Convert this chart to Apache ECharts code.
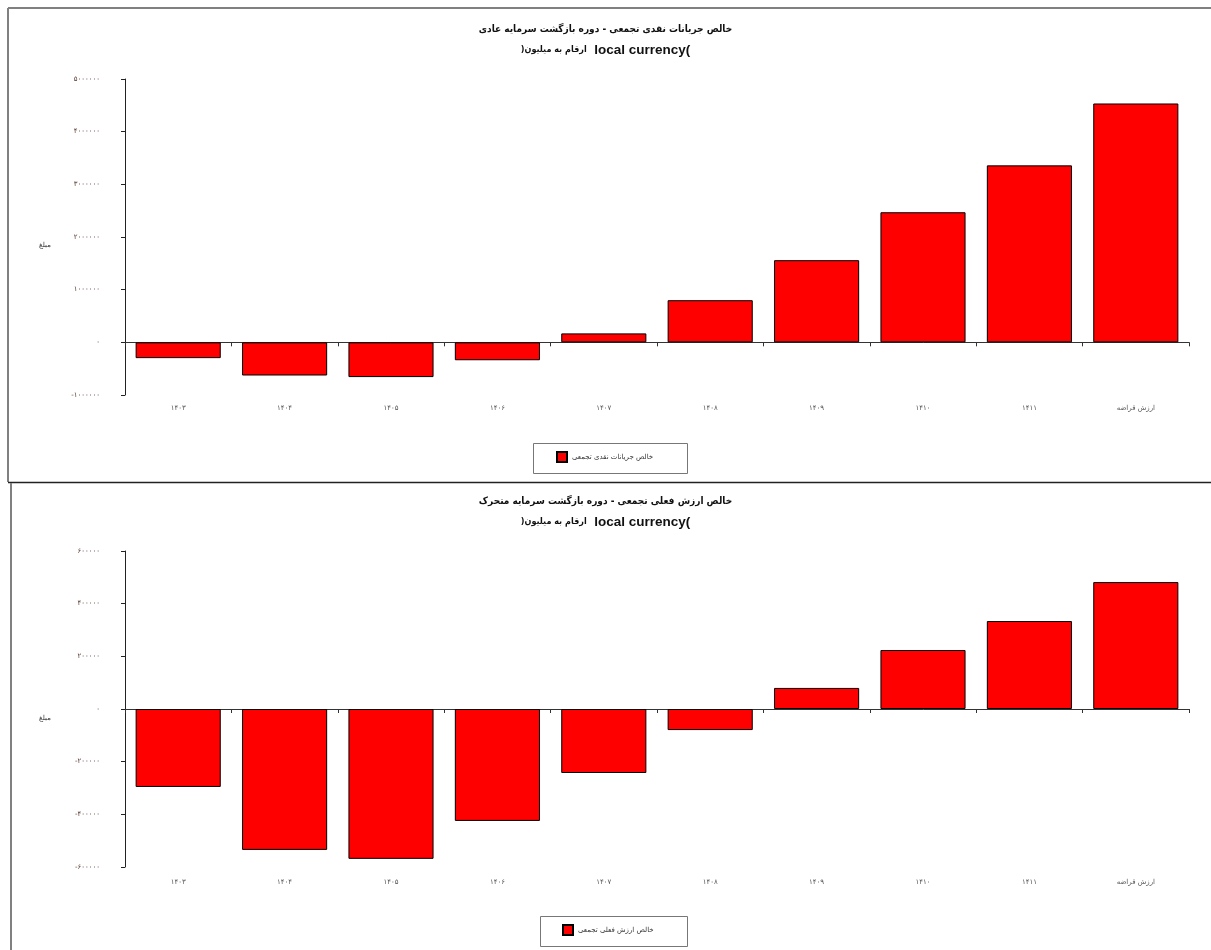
<!DOCTYPE html>
<html><head><meta charset="utf-8">
<script src="https://cdn.jsdelivr.net/npm/echarts@6/dist/echarts.min.js"></script>
<style>html,body{margin:0;padding:0;background:#fff}#c{width:1211px;height:950px}</style>
</head><body><div id="c"></div>
<script>
const categories = ['۱۴۰۳','۱۴۰۴','۱۴۰۵','۱۴۰۶','۱۴۰۷','۱۴۰۸','۱۴۰۹','۱۴۱۰','۱۴۱۱','ارزش قراضه'];
const cumulativeCashFlow = [-300000,-630000,-660000,-340000,170000,800000,1560000,2470000,3360000,4535000];
const cumulativeNPV = [-296000,-535000,-569000,-425000,-243000,-80000,80000,224000,334000,482000];
const seriesNames = ['خالص جریانات نقدی تجمعی','خالص ارزش فعلی تجمعی'];
const titles = ['خالص جریانات نقدی تجمعی - دوره بازگشت سرمایه عادی','خالص ارزش فعلی تجمعی - دوره بازگشت سرمایه متحرک'];
const subtitleFa = ')ارقام به میلیون';
const subtitleEn = '  local currency(';
const axisName = 'مبلغ';
const yRange1 = [-1000000, 5000000, 1000000];
const yRange2 = [-600000, 600000, 200000];

const FA = 'DejaVu Sans';
const FAC = '"DejaVu Sans Condensed", "DejaVu Sans"';
function toFa(v){return String(v).replace(/[0-9]/g,d=>'۰۱۲۳۴۵۶۷۸۹'[+d]);}

const chart = echarts.init(document.getElementById('c'));
const grids = [{left:125,right:22,top:79,height:316},{left:125,right:22,top:551,height:316}];
function xAxes(gi, margin){
  return [
    {type:'category',gridIndex:gi,data:categories,axisLine:{onZero:true,lineStyle:{color:'#333',width:1}},
     axisTick:{show:true,alignWithLabel:false,length:4,lineStyle:{color:'#333'}},axisLabel:{show:false},splitLine:{show:false}},
    {type:'category',gridIndex:gi,data:categories,position:'bottom',axisLine:{show:false,onZero:false},axisTick:{show:false},
     axisLabel:{show:true,interval:0,margin:margin,fontFamily:FA,fontSize:7,color:'#555'},splitLine:{show:false}}
  ];
}
function yAxis(gi, r){
  return {type:'value',gridIndex:gi,min:r[0],max:r[1],interval:r[2],
    axisLine:{show:true,lineStyle:{color:'#222',width:1}},axisTick:{show:true,length:4,lineStyle:{color:'#222'}},
    splitLine:{show:false},axisLabel:{margin:25,fontFamily:FA,fontSize:7,color:'#5a3a30',formatter:v=>toFa(v)}};
}
function titleComps(t, top){
  return [
    {text:t,left:'center',top:top,textStyle:{fontFamily:FAC,fontSize:10,fontWeight:'bold',color:'#111'}},
    {text:'{a|'+subtitleFa+'}{b|'+subtitleEn+'}',left:'center',top:top+19,
     textStyle:{rich:{a:{fontFamily:FAC,fontSize:9,fontWeight:'bold',color:'#111'},b:{fontFamily:'Liberation Sans',fontSize:13.5,fontWeight:'bold',color:'#111'}}}}
  ];
}
const barStyle = {color:'#ff0000',borderColor:'#000',borderWidth:1};
const legendBase = {itemWidth:10,itemHeight:10,itemGap:4,padding:0,icon:'rect',textStyle:{fontFamily:FA,fontSize:7,color:'#333'}};
const option = {
  animation:false,
  title:[...titleComps(titles[0],19),...titleComps(titles[1],491)],
  grid:grids,
  xAxis:[...xAxes(0,10),...xAxes(1,12)],
  yAxis:[yAxis(0,yRange1),yAxis(1,yRange2)],
  legend:[
    Object.assign({data:[seriesNames[0]],left:556,top:451},legendBase),
    Object.assign({data:[seriesNames[1]],left:562,top:924},legendBase)
  ],
  series:[
    {name:seriesNames[0],type:'bar',xAxisIndex:0,yAxisIndex:0,data:cumulativeCashFlow,barCategoryGap:'20%',itemStyle:barStyle},
    {name:seriesNames[1],type:'bar',xAxisIndex:2,yAxisIndex:1,data:cumulativeNPV,barCategoryGap:'20%',itemStyle:barStyle}
  ],
  graphic:[
    {type:'line',shape:{x1:8,y1:8,x2:1211,y2:8},style:{stroke:'#808080',lineWidth:2}},
    {type:'line',shape:{x1:8,y1:8,x2:8,y2:482},style:{stroke:'#808080',lineWidth:2}},
    {type:'line',shape:{x1:8,y1:482.5,x2:1211,y2:482.5},style:{stroke:'#222',lineWidth:1.5}},
    {type:'line',shape:{x1:11,y1:483,x2:11,y2:950},style:{stroke:'#808080',lineWidth:2}},
    {type:'rect',shape:{x:533.5,y:443.5,width:154,height:30},style:{fill:'none',stroke:'#777',lineWidth:1}},
    {type:'rect',shape:{x:540.5,y:916.5,width:147,height:30},style:{fill:'none',stroke:'#777',lineWidth:1}},
    {type:'text',x:45,y:245,style:{text:axisName,fontFamily:FA,fontSize:7,fill:'#333',align:'center',verticalAlign:'middle'}},
    {type:'text',x:45,y:718,style:{text:axisName,fontFamily:FA,fontSize:7,fill:'#333',align:'center',verticalAlign:'middle'}}
  ]
};
chart.setOption(option);
</script></body></html>
